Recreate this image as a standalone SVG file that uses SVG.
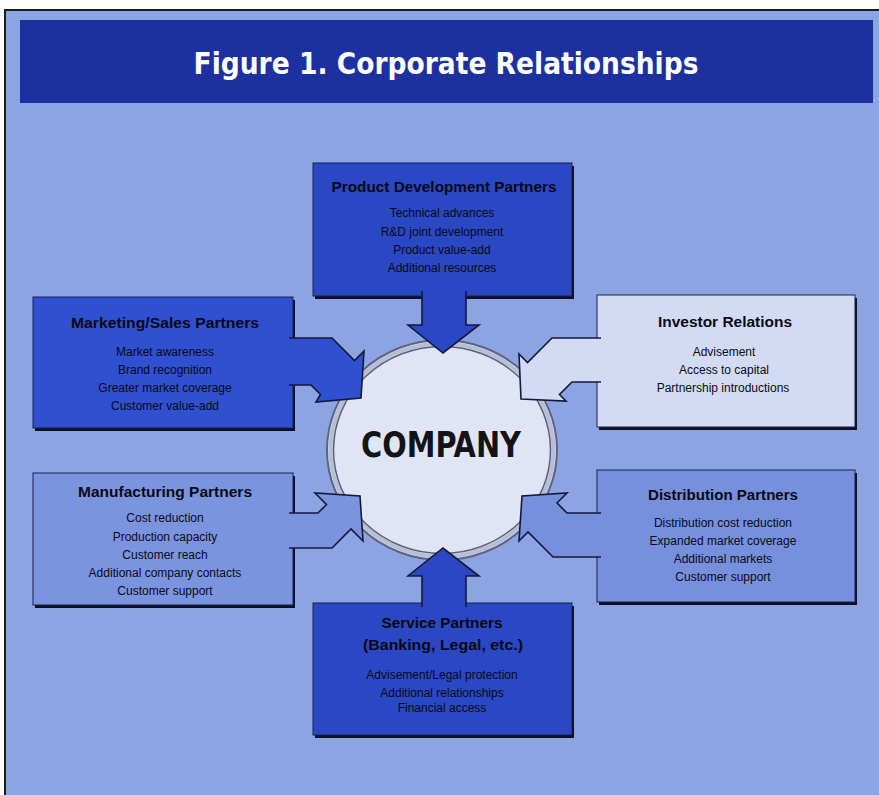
<svg xmlns="http://www.w3.org/2000/svg" width="879" height="795" viewBox="0 0 879 795">
<style>
.box{stroke:#1a2050;stroke-width:1}
.shadow{fill:#0d0f25}
.ttl{font-family:"Liberation Sans",Arial,sans-serif;font-weight:bold;font-size:14px;fill:#0a0a14;text-anchor:middle}
.itm{font-family:"Liberation Sans",Arial,sans-serif;font-size:12px;fill:#0a0a14;text-anchor:middle}
.arr{stroke:#14183a;stroke-width:1.6;stroke-linejoin:miter}
.dark{fill:#2a47c4}
.mkt{fill:#2f50d0}
.inv{fill:#d3dbf4}
.mfg{fill:#7b94e0}
.dst{fill:#7690dd}
</style>
<rect x="0" y="0" width="879" height="795" fill="#ffffff"/>
<rect x="5" y="10" width="874" height="785" fill="#8da4e2"/>
<path d="M5 795 L5 10 L879 10" fill="none" stroke="#1b1b22" stroke-width="2"/>
<g id="title">
<rect x="20" y="20" width="853" height="83" fill="#1d30a0"/>
<text x="446" y="74" font-family="'DejaVu Sans Condensed','Liberation Sans',sans-serif" font-weight="bold" font-size="31" fill="#ffffff" text-anchor="middle" textLength="505" lengthAdjust="spacingAndGlyphs">Figure 1. Corporate Relationships</text>
</g>
<g id="product">
<rect class="shadow" x="315" y="166" width="259" height="133"/>
<rect class="box dark" x="313" y="163" width="259" height="133"/>
<text class="ttl" x="444" y="192" textLength="225" lengthAdjust="spacingAndGlyphs">Product Development Partners</text>
<text class="itm" x="442" y="217">Technical advances</text>
<text class="itm" x="442" y="236">R&amp;D joint development</text>
<text class="itm" x="442" y="254">Product value-add</text>
<text class="itm" x="442" y="272">Additional resources</text>
</g>
<g id="marketing">
<rect class="shadow" x="35" y="300" width="260" height="131"/>
<rect class="box mkt" x="33" y="297" width="260" height="131"/>
<text class="ttl" x="165" y="328" textLength="188" lengthAdjust="spacingAndGlyphs">Marketing/Sales Partners</text>
<text class="itm" x="165" y="356">Market awareness</text>
<text class="itm" x="165" y="374">Brand recognition</text>
<text class="itm" x="165" y="392">Greater market coverage</text>
<text class="itm" x="165" y="410">Customer value-add</text>
</g>
<g id="investor">
<rect class="shadow" x="599" y="298" width="258" height="132"/>
<rect class="box inv" x="597" y="295" width="258" height="132"/>
<text class="ttl" x="725" y="327" textLength="134" lengthAdjust="spacingAndGlyphs">Investor Relations</text>
<text class="itm" x="724" y="356">Advisement</text>
<text class="itm" x="724" y="374">Access to capital</text>
<text class="itm" x="723" y="392">Partnership introductions</text>
</g>
<g id="manufacturing">
<rect class="shadow" x="35" y="476" width="260" height="132"/>
<rect class="box mfg" x="33" y="473" width="260" height="132"/>
<text class="ttl" x="165" y="497" textLength="174" lengthAdjust="spacingAndGlyphs">Manufacturing Partners</text>
<text class="itm" x="165" y="522">Cost reduction</text>
<text class="itm" x="165" y="541">Production capacity</text>
<text class="itm" x="165" y="559">Customer reach</text>
<text class="itm" x="165" y="577">Additional company contacts</text>
<text class="itm" x="165" y="595">Customer support</text>
</g>
<g id="distribution">
<rect class="shadow" x="599" y="473" width="258" height="132"/>
<rect class="box dst" x="597" y="470" width="258" height="132"/>
<text class="ttl" x="723" y="500" textLength="150" lengthAdjust="spacingAndGlyphs">Distribution Partners</text>
<text class="itm" x="723" y="527">Distribution cost reduction</text>
<text class="itm" x="723" y="545">Expanded market coverage</text>
<text class="itm" x="723" y="563">Additional markets</text>
<text class="itm" x="723" y="581">Customer support</text>
</g>
<g id="service">
<rect class="shadow" x="315" y="606" width="259" height="132"/>
<rect class="box dark" x="313" y="603" width="259" height="132"/>
<text class="ttl" x="442" y="628" textLength="121" lengthAdjust="spacingAndGlyphs">Service Partners</text>
<text class="ttl" x="443" y="650" textLength="160" lengthAdjust="spacingAndGlyphs">(Banking, Legal, etc.)</text>
<text class="itm" x="442" y="679">Advisement/Legal protection</text>
<text class="itm" x="442" y="697">Additional relationships</text>
<text class="itm" x="442" y="712">Financial access</text>
</g>
<g id="company">
<ellipse cx="442" cy="450" rx="115" ry="110" fill="#e0e5f5" stroke="#5d6280" stroke-width="2"/>
<ellipse cx="442" cy="450" rx="111.5" ry="106.5" fill="none" stroke="#b8bed4" stroke-width="4"/>
<ellipse cx="442" cy="450" rx="108.5" ry="103.5" fill="none" stroke="#5a5f7c" stroke-width="1.5"/>
<text x="441" y="457" font-family="'DejaVu Sans Condensed','Liberation Sans',sans-serif" font-weight="bold" font-size="36" fill="#141418" text-anchor="middle" textLength="160" lengthAdjust="spacingAndGlyphs">COMPANY</text>
</g>
<g id="connectors">
<path class="arr dark" d="M422 291 L422 325 L408 325 L443 353 L479 325 L466 325 L466 291"/>
<path class="arr mkt" d="M289 338 L332 338 L354.5 360.5 L364 351 L361 398 L316 402 L320.5 394.5 L311 385 L289 385"/>
<path class="arr inv" d="M601 338 L552 338 L527.5 362.5 L519 354 L521 399 L566 401 L559.5 394.5 L572 382 L601 382"/>
<path class="arr mfg" d="M289 548 L332 548 L351 529 L363 541 L360 496 L315 493 L326.5 504.5 L318 513 L289 513"/>
<path class="arr dst" d="M601 557 L553 557 L528 532 L519 541 L522 496 L567 493 L557 503 L567 513 L601 513"/>
<path class="arr dark" d="M466 607 L466 576 L479 576 L443 548 L408 576 L422 576 L422 607"/>
</g>
</svg>
